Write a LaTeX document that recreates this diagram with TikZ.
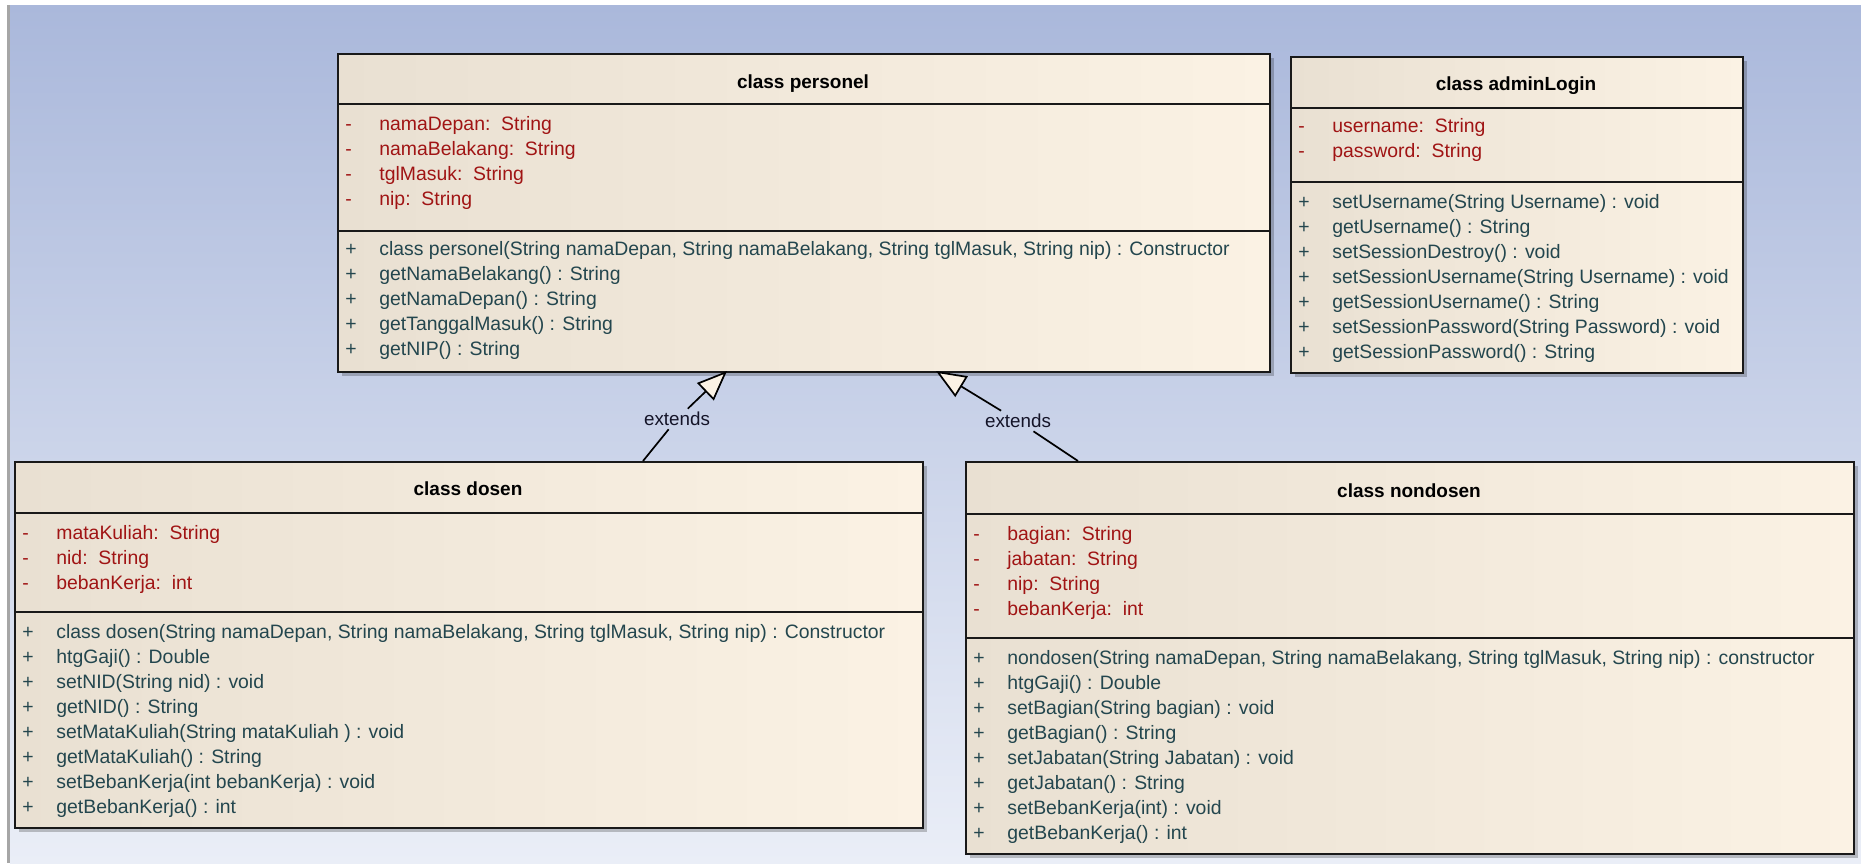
\documentclass[tikz,border=0pt]{standalone}
\usepackage{fontspec}
\setmainfont{Liberation Sans}
\usetikzlibrary{arrows.meta,calc}
\definecolor{bgtop}{RGB}{170,184,219}
\definecolor{bgbot}{RGB}{234,238,247}
\definecolor{boxl}{RGB}{233,224,210}
\definecolor{boxr}{RGB}{251,242,228}
\definecolor{attrc}{RGB}{160,20,20}
\definecolor{opc}{RGB}{35,70,78}
\definecolor{framec}{RGB}{25,25,25}
\definecolor{labc}{RGB}{20,20,40}
\newcommand\compart[6]{%
  \foreach[count=\i] \t in {#6} {%
    \node[#4] (#1\i) at (#2, {#3+25*(\i-1)}) {\makebox[17pt][l]{#5}\t};}}
\begin{document}
\begin{tikzpicture}[x=0.5pt,y=-0.5pt,
  txt/.style={anchor=base west, inner sep=0pt, font=\fontsize{9.7pt}{12pt}\selectfont},
  attr/.style={txt, text=attrc},
  oper/.style={txt, text=opc},
  titl/.style={anchor=base, inner sep=0pt, font=\fontsize{9.5pt}{12pt}\selectfont\bfseries, text=black},
  classbox/.style={anchor=north west, draw=framec, line width=0.9pt, left color=boxl, right color=boxr, inner sep=0pt},
  shadowbox/.style={fill=black, opacity=0.22},
  sep/.style={draw=framec, line width=0.9pt},
  lab/.style={inner sep=1.5pt, font=\fontsize{9.4pt}{12pt}\selectfont, text=labc},
  conn/.style={draw=black, line width=0.85pt},
  gen/.style={conn, -{Triangle[length=15pt, width=12pt, fill=boxr]}}
]
\useasboundingbox (0,0) rectangle (1861,863);
% background
\fill[white] (0,0) rectangle (1861,863);
\shade[top color=bgtop, bottom color=bgbot] (10,5) rectangle (1861,863);
\fill[black!35] (7,5) rectangle (10,863);

% ---------- class personel ----------
\fill[shadowbox] (342,58) rectangle (1274,376);
\node[classbox, minimum width=466pt, minimum height=159pt] (personel) at (337,53) {};
\draw[sep] (337,104) -- (1269,104);
\draw[sep] (337,231) -- (1269,231);
\node[titl] (personel-t) at (803,88) {class personel};
\compart{pa}{345}{130}{attr}{-}{{namaDepan:~~String},{namaBelakang:~~String},{tglMasuk:~~String},{nip:~~String}}
\compart{po}{345}{255}{oper}{+}{{class personel(String namaDepan, String namaBelakang, String tglMasuk, String nip) : Constructor},{getNamaBelakang() : String},{getNamaDepan() : String},{getTanggalMasuk() : String},{getNIP() : String}}

% ---------- class adminLogin ----------
\fill[shadowbox] (1295,61) rectangle (1747,377);
\node[classbox, minimum width=226pt, minimum height=158pt] (admin) at (1290,56) {};
\draw[sep] (1290,108) -- (1742,108);
\draw[sep] (1290,182) -- (1742,182);
\node[titl] (admin-t) at (1516,90) {class adminLogin};
\compart{aa}{1298}{132}{attr}{-}{{username:~~String},{password:~~String}}
\compart{ao}{1298}{208}{oper}{+}{{setUsername(String Username) : void},{getUsername() : String},{setSessionDestroy() : void},{setSessionUsername(String Username) : void},{getSessionUsername() : String},{setSessionPassword(String Password) : void},{getSessionPassword() : String}}

% ---------- class dosen ----------
\fill[shadowbox] (19,466) rectangle (927,832);
\node[classbox, minimum width=454pt, minimum height=183pt] (dosen) at (14,461) {};
\draw[sep] (14,513) -- (922,513);
\draw[sep] (14,612) -- (922,612);
\node[titl] (dosen-t) at (468,495) {class dosen};
\compart{da}{22}{539}{attr}{-}{{mataKuliah:~~String},{nid:~~String},{bebanKerja:~~int}}
\compart{do}{22}{638}{oper}{+}{{class dosen(String namaDepan, String namaBelakang, String tglMasuk, String nip) : Constructor},{htgGaji() : Double},{setNID(String nid) : void},{getNID() : String},{setMataKuliah(String mataKuliah ) : void},{getMataKuliah() : String},{setBebanKerja(int bebanKerja) : void},{getBebanKerja() : int}}

% ---------- class nondosen ----------
\fill[shadowbox] (970,466) rectangle (1858,858);
\node[classbox, minimum width=444pt, minimum height=196pt] (nondosen) at (965,461) {};
\draw[sep] (965,514) -- (1853,514);
\draw[sep] (965,638) -- (1853,638);
\node[titl] (nondosen-t) at (1409,497) {class nondosen};
\compart{na}{973}{540}{attr}{-}{{bagian:~~String},{jabatan:~~String},{nip:~~String},{bebanKerja:~~int}}
\compart{no}{973}{664}{oper}{+}{{nondosen(String namaDepan, String namaBelakang, String tglMasuk, String nip) : constructor},{htgGaji() : Double},{setBagian(String bagian) : void},{getBagian() : String},{setJabatan(String Jabatan) : void},{getJabatan() : String},{setBebanKerja(int) : void},{getBebanKerja() : int}}

% ---------- generalisations ----------
\coordinate (d-top) at (643,461);
\coordinate (p-tip1) at (727,371);
\coordinate (n-top) at (1078,461);
\coordinate (p-tip2) at (936,371);
\node[lab] (ext1) at (677,419) {extends};
\node[lab] (ext2) at (1018,421) {extends};
\draw[conn] (d-top) -- (ext1);
\draw[gen] (ext1) -- (p-tip1);
\draw[conn] (n-top) -- (ext2);
\draw[gen] (ext2) -- (p-tip2);
\end{tikzpicture}
\end{document}
